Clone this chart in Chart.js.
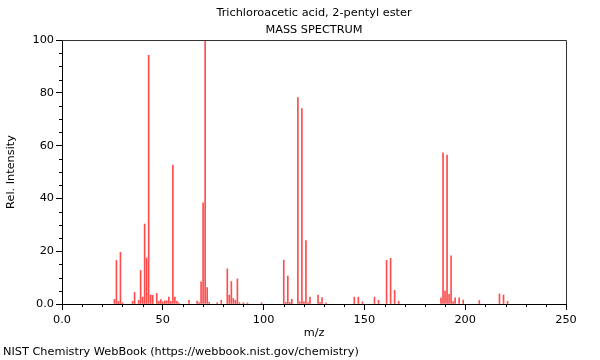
<!DOCTYPE html>
<html>
<head>
<meta charset="utf-8">
<script src="https://cdn.jsdelivr.net/npm/chart.js@4"></script>
<style>
  html, body { margin: 0; padding: 0; background: #fff; }
  #wrap { position: relative; width: 600px; height: 360px; }
  #credit { position: absolute; left: 3px; top: 345px; font: 11.3px "DejaVu Sans", sans-serif; color: #000; white-space: nowrap; }
</style>
</head>
<body>
<div id="wrap">
  <canvas id="spectrum" width="600" height="360"></canvas>
  <div id="credit">NIST Chemistry WebBook (https://webbook.nist.gov/chemistry)</div>
</div>
<script>
const titleLines = ["Trichloroacetic acid, 2-pentyl ester", "MASS SPECTRUM"];
const mz = [26, 27, 28, 29, 30, 35, 36, 38, 39, 40, 41, 42, 43, 44, 45, 47, 48, 49, 50, 51, 52, 53, 54, 55, 56, 57, 58,
  63, 67, 68, 69, 70, 71, 72, 73, 77, 79, 82, 83, 84, 85, 86, 87, 88, 90, 92, 99,
  110, 111, 112, 113, 114, 117, 118, 119, 120, 121, 122, 123, 127, 128, 129, 131,
  145, 147, 149, 155, 157, 161, 163, 165, 167,
  188, 189, 190, 191, 192, 193, 194, 195, 197, 199, 207, 217, 219, 221];
const intensity = [1.7, 16.5, 1.0, 19.6, 0.5, 1.0, 4.4, 1.4, 12.7, 2.6, 30.3, 17.4, 94.2, 3.4, 3.3, 4.0, 1.0, 1.7, 0.8, 1.2, 1.2, 2.6, 1.0, 52.6, 2.6, 1.0, 0.4,
  1.4, 1.1, 0.5, 8.4, 38.3, 100, 6.2, 0.6, 0.5, 1.4, 13.3, 3.4, 8.5, 2.1, 1.4, 9.5, 0.5, 0.5, 0.4, 0.5,
  16.6, 0.6, 10.6, 0.6, 1.8, 78.2, 0.8, 74.0, 0.8, 24.0, 0.5, 2.6, 3.4, 0.6, 2.4, 0.4,
  2.6, 2.6, 0.8, 2.6, 1.4, 16.5, 17.3, 5.2, 1.0,
  2.2, 57.3, 4.9, 56.4, 3.7, 18.2, 0.9, 2.3, 2.3, 1.5, 1.3, 3.8, 3.4, 1.0];
const xTicks = [0, 50, 100, 150, 200, 250];
const yTicks = [0, 20, 40, 60, 80, 100];

const font = { family: "DejaVu Sans", size: 11.3 };

// minor ticks, top/right frame and the two title lines
const decorations = {
  id: "decorations",
  afterDraw(chart) {
    const { ctx, chartArea: area, scales } = chart;
    ctx.save();
    ctx.strokeStyle = "#333";
    ctx.lineWidth = 1;
    ctx.beginPath();
    ctx.moveTo(area.left, area.top + 0.5);
    ctx.lineTo(area.right + 0.5, area.top + 0.5);
    ctx.lineTo(area.right + 0.5, area.bottom);
    ctx.stroke();

    ctx.strokeStyle = "#000";
    ctx.beginPath();
    for (let v = 0; v <= 250; v += 10) {
      if (v % 50 === 0) continue;
      const px = Math.round(scales.x.getPixelForValue(v)) + 0.5;
      ctx.moveTo(px, area.bottom);
      ctx.lineTo(px, area.bottom + 3);
    }
    for (let v = 0; v <= 100; v += 5) {
      if (v % 20 === 0) continue;
      const py = Math.round(scales.y.getPixelForValue(v)) + 0.5;
      ctx.moveTo(area.left - 3, py);
      ctx.lineTo(area.left, py);
    }
    ctx.stroke();

    ctx.fillStyle = "#000";
    ctx.font = "11.3px 'DejaVu Sans'";
    ctx.textAlign = "center";
    ctx.textBaseline = "middle";
    const cx = (area.left + area.right) / 2;
    ctx.fillText(titleLines[0], cx, 13);
    ctx.fillText(titleLines[1], cx, 30);
    ctx.restore();
  }
};

new Chart(document.getElementById("spectrum"), {
  type: "bar",
  data: {
    datasets: [{
      data: mz.map((m, i) => ({ x: m, y: intensity[i] })),
      backgroundColor: "rgba(255, 0, 0, 0.7)",
      borderWidth: 0,
      barThickness: 1
    }]
  },
  options: {
    responsive: false,
    animation: false,
    layout: { padding: { top: 40, left: 2, right: 34, bottom: 16 } },
    plugins: { legend: { display: false }, tooltip: { enabled: false } },
    scales: {
      x: {
        type: "linear",
        min: 0,
        max: 250,
        offset: false,
        afterBuildTicks: (scale) => { scale.ticks = xTicks.map((v) => ({ value: v })); },
        afterFit: (scale) => { scale.height = 40; },
        grid: { display: true, drawOnChartArea: false, offset: false, tickLength: 6, color: "#000" },
        border: { color: "#000" },
        ticks: { font, color: "#000", padding: 3, maxRotation: 0, callback: (v) => (v === 0 ? "0.0" : String(v)) },
        title: { display: true, text: "m/z", font, color: "#000", padding: { top: 2, bottom: 4 } }
      },
      y: {
        min: 0,
        max: 100,
        afterBuildTicks: (scale) => { scale.ticks = yTicks.map((v) => ({ value: v })); },
        afterFit: (scale) => { scale.width = 60; },
        grid: { display: true, drawOnChartArea: false, tickLength: 6, color: "#000" },
        border: { color: "#000" },
        ticks: { font, color: "#000", padding: 2, callback: (v) => (v === 0 ? "0.0" : String(v)) },
        title: { display: true, text: "Rel. Intensity", font, color: "#000", padding: { top: 2, bottom: 2 } }
      }
    }
  },
  plugins: [decorations]
});
</script>
</body>
</html>
